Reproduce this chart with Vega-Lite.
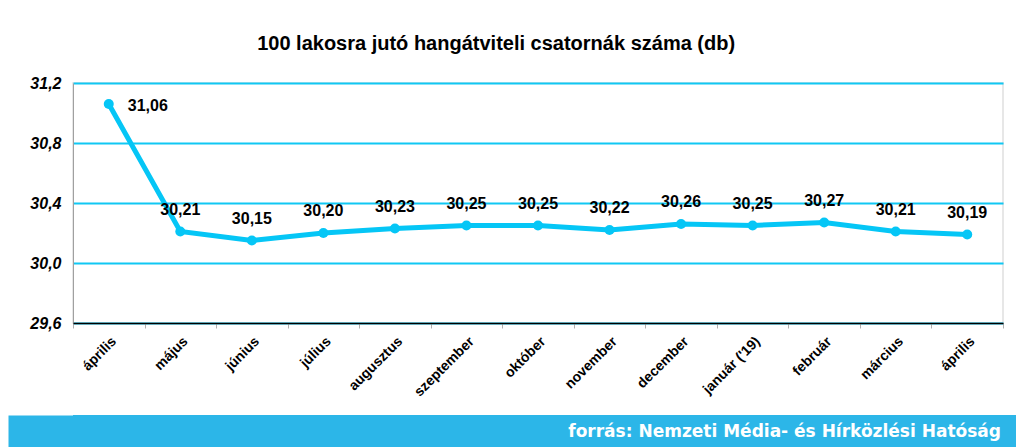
{
  "$schema": "https://vega.github.io/schema/vega-lite/v6.json",
  "background": "white",
  "padding": {"left": 7, "top": 34, "right": 0, "bottom": 0},
  "title": {"text": "100 lakosra jutó hangátviteli csatornák száma (db)", "font": "Liberation Sans", "fontSize": 20, "fontWeight": "bold", "color": "#000000", "anchor": "middle", "offset": 20, "dx": -16},
  "spacing": 15,
  "config": {
    "font": "Liberation Sans",
    "locale": {"number": {"decimal": ",", "thousands": " ", "grouping": [3], "currency": ["", " Ft"]}}
  },
  "vconcat": [
    {
      "width": 930,
      "height": 240,
      "view": {"stroke": "#e0e0e0", "strokeWidth": 1.5},
      "data": {"values": [
        {"k": "április|1", "v": 31.06},
        {"k": "május", "v": 30.21},
        {"k": "június", "v": 30.15},
        {"k": "július", "v": 30.20},
        {"k": "augusztus", "v": 30.23},
        {"k": "szeptember", "v": 30.25},
        {"k": "október", "v": 30.25},
        {"k": "november", "v": 30.22},
        {"k": "december", "v": 30.26},
        {"k": "január ('19)", "v": 30.25},
        {"k": "február", "v": 30.27},
        {"k": "március", "v": 30.21},
        {"k": "április|2", "v": 30.19}
      ]},
      "encoding": {
        "x": {"field": "k", "type": "nominal", "sort": null,
          "scale": {"type": "band", "paddingInner": 0, "paddingOuter": 0},
          "axis": {"title": null, "labelAngle": -45, "labelExpr": "split(datum.label, '|')[0]",
            "labelFontWeight": "bold", "labelFontSize": 14, "labelColor": "#000000",
            "domainColor": "#000000", "domainWidth": 1.5, "tickColor": "#b0b0b0", "tickSize": 5,
            "tickBand": "extent", "labelPadding": 6, "grid": false, "zindex": 2}},
        "y": {"field": "v", "type": "quantitative",
          "scale": {"domain": [29.6, 31.2], "zero": false, "nice": false},
          "axis": {"title": null, "values": [29.6, 30.0, 30.4, 30.8, 31.2], "format": ".1f",
            "grid": true, "gridColor": "#10c8f4", "gridWidth": 2, "domainColor": "#a0a0a0",
            "ticks": false, "labelPadding": 12, "labelFontStyle": "italic", "labelFontWeight": "bold",
            "labelFontSize": 16, "labelColor": "#000000", "minExtent": 65}}
      },
      "layer": [
        {"mark": {"type": "line", "color": "#05c6f6", "strokeWidth": 5}},
        {"mark": {"type": "point", "filled": true, "color": "#05c6f6", "size": 100, "opacity": 1}},
        {"transform": [{"filter": "datum.k == 'április|1'"}],
         "mark": {"type": "text", "align": "left", "dx": 19, "dy": 2, "fontWeight": "bold", "fontSize": 16, "color": "#000000"},
         "encoding": {"text": {"field": "v", "type": "quantitative", "format": ".2f"}}},
        {"transform": [{"filter": "datum.k != 'április|1'"}],
         "mark": {"type": "text", "dy": -22, "fontWeight": "bold", "fontSize": 16, "color": "#000000"},
         "encoding": {"text": {"field": "v", "type": "quantitative", "format": ".2f"}}}
      ]
    },
    {
      "width": 944,
      "height": 32,
      "view": {"fill": "#2cb6e8", "stroke": null},
      "data": {"values": [{"src": "forrás: Nemzeti Média- és Hírközlési Hatóság"}]},
      "mark": {"type": "text", "align": "right", "baseline": "middle", "dx": -16, "dy": 1, "font": "DejaVu Sans", "fontWeight": "bold", "fontSize": 17, "color": "#ffffff"},
      "encoding": {
        "x": {"datum": 1, "type": "quantitative", "scale": {"domain": [0, 1]}, "axis": null},
        "y": {"datum": 0.5, "type": "quantitative", "scale": {"domain": [0, 1]},
          "axis": {"title": null, "labels": false, "ticks": false, "grid": false, "domain": true,
            "domainWidth": 65, "domainColor": "#2cb6e8", "domainCap": "butt", "offset": 32.5}},
        "text": {"field": "src", "type": "nominal"}
      }
    }
  ]
}
